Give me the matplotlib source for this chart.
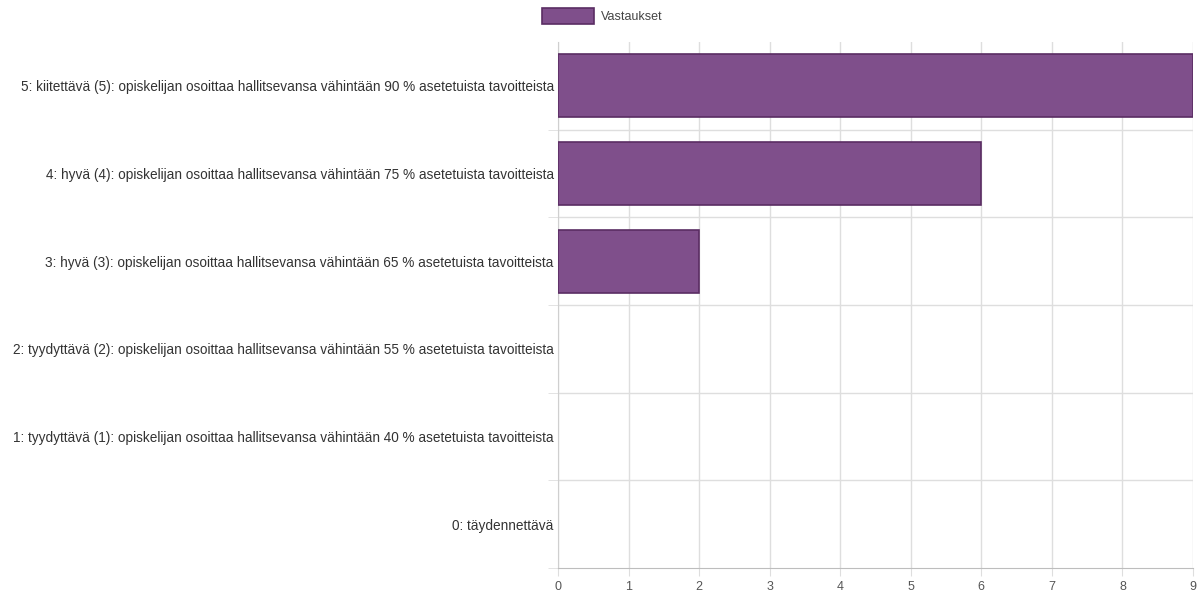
import matplotlib
matplotlib.use("Agg")
import matplotlib.pyplot as plt

categories = [
    "5: kiitettävä (5): opiskelijan osoittaa hallitsevansa vähintään 90 % asetetuista tavoitteista",
    "4: hyvä (4): opiskelijan osoittaa hallitsevansa vähintään 75 % asetetuista tavoitteista",
    "3: hyvä (3): opiskelijan osoittaa hallitsevansa vähintään 65 % asetetuista tavoitteista",
    "2: tyydyttävä (2): opiskelijan osoittaa hallitsevansa vähintään 55 % asetetuista tavoitteista",
    "1: tyydyttävä (1): opiskelijan osoittaa hallitsevansa vähintään 40 % asetetuista tavoitteista",
    "0: täydennettävä",
]
values = [9, 6, 2, 0, 0, 0]
series_name = "Vastaukset"
x_ticks = list(range(0, 10))

plt.rcParams['font.family'] = ['Liberation Sans', 'DejaVu Sans']

fig = plt.figure(figsize=(12.04, 5.91), dpi=100)
ax = fig.add_axes([558/1204, 1-568/591, (1193-558)/1204, (568-42)/591])

n = len(categories)
ypos = list(range(n))
lws = [1.2 if v > 0 else 0 for v in values]
ax.barh(ypos, values, height=0.72, color="#7f4f8b", edgecolor="#5a2d63",
        linewidth=lws, label=series_name, zorder=3)
ax.set_ylim(n - 0.5, -0.5)
ax.set_xlim(0, 9)
ax.set_xticks(x_ticks)
ax.set_xticklabels([str(t) for t in x_ticks])
ax.set_yticks(ypos)
ax.set_yticklabels(categories)
ax.set_yticks([b - 0.5 for b in range(1, n + 1)], minor=True)

for t in x_ticks:
    ax.axvline(t, color="#dedede", lw=1, zorder=0)
for b in range(1, n):
    ax.axhline(b - 0.5, color="#dedede", lw=1, zorder=0)

for s in ["top", "right"]:
    ax.spines[s].set_visible(False)
ax.spines["left"].set_color("#cfcfcf")
ax.spines["bottom"].set_color("#bdbdbd")
ax.tick_params(axis="x", length=6, color="#dedede", labelsize=9, labelcolor="#555555", pad=3)
ax.tick_params(axis="y", which="major", length=0, labelsize=9.8, labelcolor="#333333", pad=3)
ax.tick_params(axis="y", which="minor", length=7, color="#dedede")

fig.legend(loc="upper center", bbox_to_anchor=(0.5, 1.005), frameon=False, fontsize=9,
           handlelength=4.2, handleheight=1.5, labelcolor="#444444", handletextpad=0.5)

fig.savefig("out.png", dpi=100, facecolor="white")
